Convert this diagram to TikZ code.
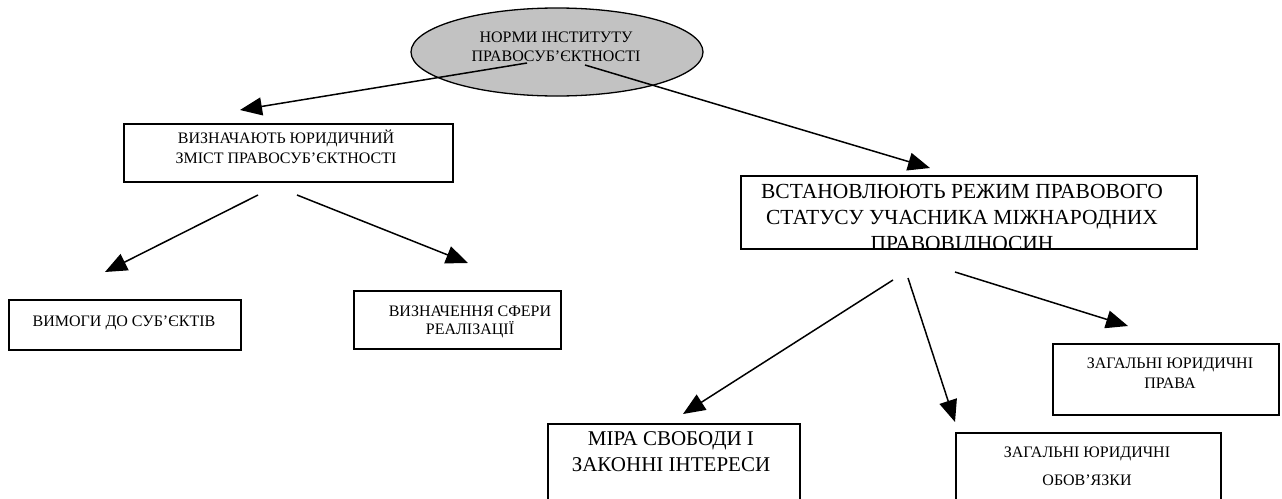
\documentclass[tikz,border=0pt]{standalone}
\usepackage{fontspec}
\setmainfont{Liberation Serif}
\usetikzlibrary{arrows.meta,shapes.geometric}
\definecolor{ellgray}{RGB}{194,194,194}
\tikzset{
  box/.style={draw=black, line width=1.6pt, rectangle, inner sep=0pt, anchor=north west},
  arr/.style={draw=black, line width=1.5pt, -{Triangle[length=22pt,width=18pt]}},
  sm/.style={font=\fontsize{16}{20}\selectfont, align=center, inner sep=0pt},
  lg/.style={font=\fontsize{21}{25.5}\selectfont, align=center, inner sep=0pt},
}
\begin{document}
\begin{tikzpicture}[x=1pt,y=-1pt]
\useasboundingbox (0,0) rectangle (1282,498);
\fill[white] (0,0) rectangle (1282,498);

% ellipse
\node[ellipse, draw=black, line width=1.3pt, fill=ellgray, minimum width=292pt, minimum height=88pt, inner sep=0pt] (ell) at (557,52) {};
\node[sm, font=\fontsize{16}{19}\selectfont] (ellt) at (556,46.5) {НОРМИ ІНСТИТУТУ\\ПРАВОСУБ’ЄКТНОСТІ};

% boxes
\node[box, minimum width=329pt, minimum height=58pt] (A) at (123,123) {};
\node[sm] (At) at (286,147) {ВИЗНАЧАЮТЬ ЮРИДИЧНИЙ\\ЗМІСТ ПРАВОСУБ’ЄКТНОСТІ};

\node[box, minimum width=456pt, minimum height=73pt] (B) at (740,175) {};
\begin{scope}
  \clip (B.north west) rectangle (B.south east);
  \node[lg, font=\fontsize{21.5}{25.8}\selectfont, anchor=north] (Bt) at (962,184) {ВСТАНОВЛЮЮТЬ РЕЖИМ ПРАВОВОГО\\СТАТУСУ УЧАСНИКА МІЖНАРОДНИХ\\ПРАВОВІДНОСИН};
\end{scope}

\node[box, minimum width=232pt, minimum height=50pt] (C) at (8,299) {};
\node[sm] (Ct) at (124,323) {ВИМОГИ ДО СУБ’ЄКТІВ};

\node[box, minimum width=207pt, minimum height=58pt] (D) at (353,290) {};
\node[sm, font=\fontsize{16}{18}\selectfont] (Dt) at (470,322) {ВИЗНАЧЕННЯ СФЕРИ\\РЕАЛІЗАЦІЇ};

\node[box, minimum width=252pt, minimum height=100pt] (E) at (547,423) {};
\node[lg, font=\fontsize{21}{26}\selectfont] (Et) at (671,452) {МІРА СВОБОДИ І\\ЗАКОННІ ІНТЕРЕСИ};

\node[box, minimum width=265pt, minimum height=100pt] (F) at (955,432) {};
\node[sm, font=\fontsize{16}{28}\selectfont] (Ft) at (1087,466) {ЗАГАЛЬНІ ЮРИДИЧНІ\\ОБОВ’ЯЗКИ};

\node[box, minimum width=226pt, minimum height=71pt] (G) at (1052,343) {};
\node[sm] (Gt) at (1170,373) {ЗАГАЛЬНІ ЮРИДИЧНІ\\ПРАВА};

% connector end points
\coordinate (s1) at (527,63);  \coordinate (t1) at (240,110);
\coordinate (s2) at (585,65);  \coordinate (t2) at (930,168);
\coordinate (s3) at (258,195); \coordinate (t3) at (105,272);
\coordinate (s4) at (297,195); \coordinate (t4) at (468,263);
\coordinate (s5) at (893,280); \coordinate (t5) at (683,414);
\coordinate (s6) at (908,278); \coordinate (t6) at (955,422);
\coordinate (s7) at (955,272); \coordinate (t7) at (1128,326);

\draw[arr] (s1) -- (t1);
\draw[arr] (s2) -- (t2);
\draw[arr] (s3) -- (t3);
\draw[arr] (s4) -- (t4);
\draw[arr] (s5) -- (t5);
\draw[arr] (s6) -- (t6);
\draw[arr] (s7) -- (t7);
\end{tikzpicture}
\end{document}
